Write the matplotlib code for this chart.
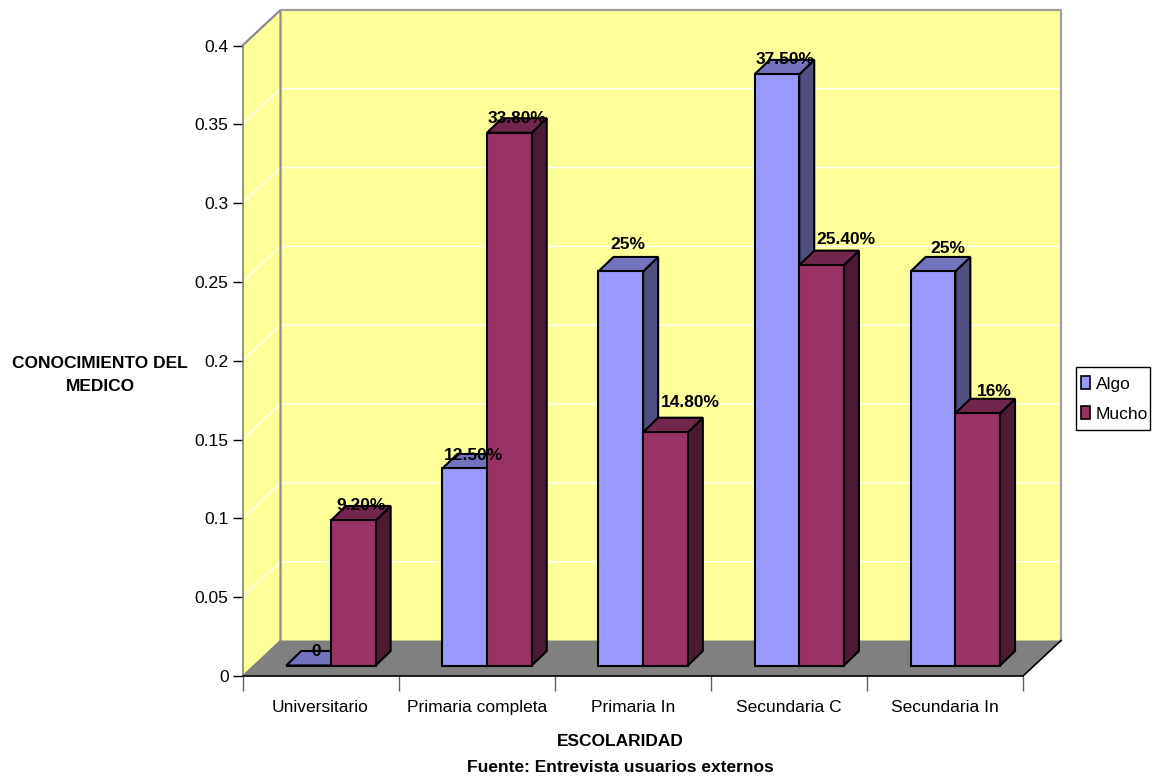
import matplotlib
matplotlib.use("Agg")
import matplotlib.pyplot as plt
from matplotlib.patches import Polygon, Patch, Rectangle

plt.rcParams['font.family'] = ['Liberation Sans']

# data
categories = ["Universitario", "Primaria completa", "Primaria In", "Secundaria C", "Secundaria In"]
algo = [0, 0.125, 0.25, 0.375, 0.25]
mucho = [0.092, 0.338, 0.148, 0.254, 0.16]
algo_labels = ["0", "12.50%", "25%", "37.50%", "25%"]
mucho_labels = ["9.20%", "33.80%", "14.80%", "25.40%", "16%"]
y_ticks = [0, 0.05, 0.1, 0.15, 0.2, 0.25, 0.3, 0.35, 0.4]
y_tick_labels = ["0", "0.05", "0.1", "0.15", "0.2", "0.25", "0.3", "0.35", "0.4"]

# manual nudge of each value label, in pixels
algo_lift = [0, -2, 12, 0, 8]
mucho_lift = [0, 0, 15, 11, 7]
algo_shift = [0, 1, 0, 1, 7]
mucho_shift = [0, 0, 17, 17, 9]

W, H = 1152, 779
fig = plt.figure(figsize=(W / 100, H / 100), dpi=100)
ax = fig.add_axes([242.5 / W, 1 - 676 / H, 780.5 / W, 630.5 / H])
ax.set_xlim(0, 5)
ax.set_ylim(0, 0.4)
ax.patch.set_visible(False)

# pixel sizes turned into data units
px = 5 / 780.5
py = 0.4 / 630.5
wall_x, wall_y = 38 * px, 35.5 * py
bar_x, bar_y = 15 * px, 14.5 * py
off_x, off_y = 10.4 * px, 10.5 * py
bar_w = 44.7 * px


def poly(points, color, edge="none", lw=0, z=1):
    ax.add_patch(Polygon(points, closed=True, facecolor=color, edgecolor=edge,
                         linewidth=lw, zorder=z, clip_on=False, joinstyle="miter"))


# walls and floor
poly([(0, 0), (wall_x, wall_y), (wall_x, 0.4 + wall_y), (0, 0.4)], "#FFFF99")
poly([(wall_x, wall_y), (5 + wall_x, wall_y), (5 + wall_x, 0.4 + wall_y), (wall_x, 0.4 + wall_y)], "#FFFF99")
poly([(0, 0), (5, 0), (5 + wall_x, wall_y), (wall_x, wall_y)], "#808080")

for v in y_ticks[1:-1]:
    ax.plot([0, wall_x, 5 + wall_x], [v, v + wall_y, v + wall_y], color="white", lw=1,
            zorder=1.5, clip_on=False)

# wall border
ax.plot([0, wall_x, wall_x], [0.4, 0.4 + wall_y, wall_y], color="#8C8C8C", lw=1.6, zorder=1.6, clip_on=False)
ax.plot([wall_x, 5 + wall_x, 5 + wall_x], [0.4 + wall_y, 0.4 + wall_y, wall_y], color="#A0A0A0", lw=1.6,
        zorder=1.6, clip_on=False)
ax.plot([5, 5 + wall_x], [0, wall_y], color="black", lw=1.2, zorder=1.6, clip_on=False)
ax.plot([0, wall_x], [0, wall_y], color="#808080", lw=1, zorder=1.6, clip_on=False)


def draw_bar(x, v, front, side, top, z):
    left = x + off_x
    base = off_y
    ax.bar(left, v, bar_w, bottom=base, align="edge", color=front, edgecolor="black", linewidth=1.5,
           zorder=z + 0.2, clip_on=False)
    poly([(left + bar_w, base), (left + bar_w + bar_x, base + bar_y),
          (left + bar_w + bar_x, base + v + bar_y), (left + bar_w, base + v)],
         side, "black", 1.5, z)
    poly([(left, base + v), (left + bar_w, base + v),
          (left + bar_w + bar_x, base + v + bar_y), (left + bar_x, base + v + bar_y)],
         top, "black", 1.5, z + 0.1)


for i in range(len(categories)):
    draw_bar(i + 0.5 - bar_w, algo[i], "#9999FF", "#4F4F80", "#7373BF", 2 + i * 0.5)
    draw_bar(i + 0.5, mucho[i], "#993366", "#4D1A33", "#73264D", 2.2 + i * 0.5)

# value labels sit on the back edge of the bar top
for i in range(len(categories)):
    for v, s, lift, shift, start in ((algo[i], algo_labels[i], algo_lift[i], algo_shift[i], i + 0.5 - bar_w),
                                     (mucho[i], mucho_labels[i], mucho_lift[i], mucho_shift[i], i + 0.5)):
        ax.annotate(s, (start + off_x + bar_w / 2 + bar_x / 2, v + off_y + bar_y),
                    xytext=(shift * 0.72, lift * 0.72), textcoords="offset points", ha="center", va="center",
                    fontsize=12.5, fontweight="bold", color="black", zorder=10, annotation_clip=False)

# axes
for name in ("top", "right"):
    ax.spines[name].set_visible(False)
ax.spines["left"].set_color("#808080")
ax.spines["left"].set_linewidth(1.2)
ax.spines["left"].set_zorder(1.7)
ax.spines["bottom"].set_color("black")
ax.spines["bottom"].set_linewidth(1.2)
ax.spines["bottom"].set_zorder(1.7)
ax.set_yticks(y_ticks)
ax.set_yticklabels(y_tick_labels, fontsize=12.5)
ax.tick_params(axis="y", length=7, width=1, pad=3, color="black")
ax.set_xticks(range(len(categories) + 1))
ax.set_xticklabels([])
ax.tick_params(axis="x", which="major", length=11, width=1, color="#606060")
ax.set_xticks([i + 0.5 for i in range(len(categories))], minor=True)
ax.set_xticklabels(categories, minor=True, fontsize=12.5)
ax.tick_params(axis="x", which="minor", length=0, pad=17)

fig.text(100 / W, 1 - 375 / H, "CONOCIMIENTO DEL\nMEDICO", ha="center", va="center", fontsize=12.5,
         fontweight="bold", linespacing=1.6)
fig.text(620 / W, 1 - 742 / H, "ESCOLARIDAD", ha="center", va="center", fontsize=12.5, fontweight="bold")
fig.text(620 / W, 1 - 768 / H, "Fuente: Entrevista usuarios externos", ha="center", va="center",
         fontsize=12.5, fontweight="bold")

# legend with its frame drawn apart, the box is taller than the legend padding allows
fig.add_artist(Rectangle((1076 / W, 1 - 430 / H), 74 / W, 63 / H, transform=fig.transFigure,
                         facecolor="white", edgecolor="black", linewidth=1))
handles = [Patch(facecolor="#9999FF", edgecolor="black", linewidth=1.2, label="Algo"),
           Patch(facecolor="#993366", edgecolor="black", linewidth=1.2, label="Mucho")]
fig.legend(handles=handles, loc="center", bbox_to_anchor=(1114.5 / W, 1 - 399 / H), fontsize=12.5,
           frameon=False, handlelength=0.55, handleheight=0.7,
           handletextpad=0.3, borderpad=0, labelspacing=0.86, borderaxespad=0)

fig.savefig("out.png", dpi=100)
